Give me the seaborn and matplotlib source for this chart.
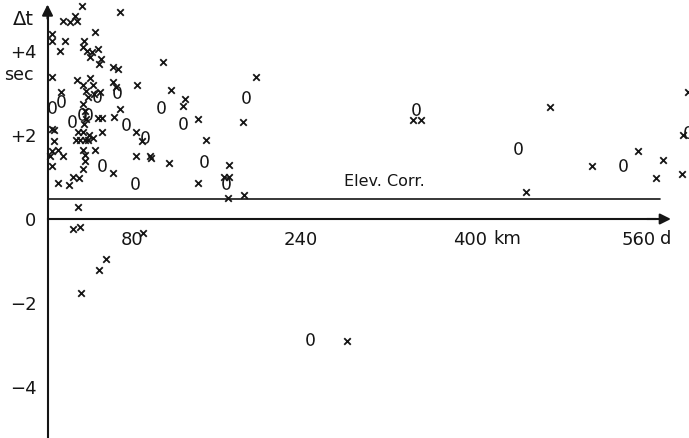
import matplotlib
matplotlib.use("Agg")
import matplotlib.pyplot as plt
import seaborn as sns
import pandas as pd

sns.set_style("white")
plt.rcParams['font.family'] = ['DejaVu Sans']

# travel-time residuals, "x" readings
cross_km = [32.3, 68.3, 14.2, 20.9, 25.6, 27.5, 3.8, 44.6, 4.7, 16.1,
            11.4, 34.2, 33.2, 37.0, 41.7, 47.4, 39.8, 50.3, 48.4, 61.7,
            66.4, 109.1, 84.4, 4.7, 27.5, 33.2, 39.8, 42.7, 61.7, 64.5,
            12.3, 116.7, 130.0, 128.1, 197.3, 142.3, 185.0, 149.9, 114.8, 97.7,
            142.3, 171.7, 167.0, 171.7, 170.8, 186.0, 83.5, 89.2, 83.5, 96.8,
            47.4, 51.2, 62.6, 68.3, 5.7, 6.6, 28.5, 33.2, 38.9, 42.7,
            51.2, 26.6, 30.4, 35.1, 38.0, 44.6, 4.7, 9.5, 2.8, 14.2,
            33.2, 35.1, 35.1, 4.7, 33.2, 61.7, 23.7, 29.4, 10.4, 19.9,
            28.5, 23.7, 30.4, 55.0, 48.4, 31.3, 90.1, 283.7, 346.3, 353.9,
            476.3, 453.5, 516.1, 558.8, 582.5, 575.9, 600.6, 606.3, 601.5, 36.1,
            38.0, 43.6, 49.3, 33.2, 35.1, 34.2, 4.7, 36.1]
cross_dt = [5.06, 4.92, 4.72, 4.68, 4.84, 4.70, 4.41, 4.44, 4.24, 4.24,
            4.00, 4.24, 4.10, 4.00, 3.98, 4.05, 3.86, 3.81, 3.69, 3.62,
            3.57, 3.74, 3.19, 3.38, 3.31, 3.19, 3.36, 3.19, 3.26, 3.14,
            3.02, 3.07, 2.85, 2.69, 3.38, 2.37, 2.30, 1.87, 1.34, 1.46,
            0.86, 1.29, 1.01, 1.01, 0.50, 0.58, 2.06, 1.85, 1.49, 1.49,
            2.40, 2.40, 2.42, 2.61, 2.11, 1.85, 2.06, 2.06, 2.01, 1.92,
            2.06, 1.89, 1.89, 1.87, 1.89, 1.65, 1.61, 1.65, 1.49, 1.49,
            1.65, 1.53, 1.39, 1.27, 1.20, 1.10, 1.01, 0.98, 0.86, 0.82,
            0.29, -0.24, -0.19, -0.94, -1.22, -1.77, -0.34, -2.90, 2.35, 2.35,
            2.66, 0.65, 1.25, 1.61, 1.41, 0.98, 1.08, 3.02, 1.99, 3.05,
            2.90, 2.97, 3.02, 2.73, 2.57, 2.25, 2.13, 2.37]

# "0" readings
zero_km = [12.3, 3.8, 22.8, 32.3, 38.0, 46.5, 65.5, 74.0, 92.0, 107.2,
           128.1, 187.9, 148.0, 168.9, 51.2, 82.5, 248.6, 349.1, 445.9, 544.6,
           606.3]
zero_dt = [2.81, 2.66, 2.33, 2.49, 2.49, 2.93, 3.02, 2.25, 1.94, 2.66,
           2.28, 2.90, 1.37, 0.86, 1.29, 0.86, -2.85, 2.61, 1.70, 1.29,
           2.06]

elev_corr = 0.48
x_ticks = [80, 160, 240, 320, 400, 480, 560]
x_labels = ['80', '', '240', '', '400', '', '560']
y_ticks = [-4, -2, 0, 2, 4]
y_labels = ['−4', '−2', '0', '+2', '+4']

df_x = pd.DataFrame({'km': cross_km, 'dt': cross_dt})
df_0 = pd.DataFrame({'km': zero_km, 'dt': zero_dt})

ink = '#151515'
fig = plt.figure(figsize=(6.89, 4.38), dpi=100)
ax = fig.add_axes([0, 0, 1, 1])

sns.scatterplot(data=df_x, x='km', y='dt', marker='x', s=22, color=ink,
                linewidth=1.3, ax=ax, clip_on=False)
sns.scatterplot(data=df_0, x='km', y='dt', marker='$0$', s=85, color=ink,
                linewidth=0, ax=ax, clip_on=False)

ax.set_xlim(-45, 607.5)
ax.set_ylim(-5.21, 5.21)

# axes through origin
for side in ['top', 'right']:
    ax.spines[side].set_visible(False)
ax.spines['left'].set_position(('data', 0))
ax.spines['bottom'].set_position(('data', 0))
ax.spines['left'].set_bounds(-5.2, 4.9)
ax.spines['bottom'].set_bounds(0, 575)
for side in ['left', 'bottom']:
    ax.spines[side].set_linewidth(1.5)
    ax.spines[side].set_color(ink)

ax.annotate('', xy=(0, 5.17), xytext=(0, 4.7),
            arrowprops=dict(arrowstyle='-|>', color=ink, lw=1.5, mutation_scale=16))
ax.annotate('', xy=(593, 0), xytext=(565, 0),
            arrowprops=dict(arrowstyle='-|>', color=ink, lw=1.5, mutation_scale=16))

ax.set_xticks(x_ticks)
ax.set_xticklabels(x_labels)
ax.set_yticks(y_ticks)
ax.set_yticklabels(y_labels)
ax.set_yticks([-3, -1, 1, 3], minor=True)
ax.tick_params(axis='both', which='both', direction='inout', length=10,
               width=1.3, color=ink, labelsize=13, labelcolor=ink)
ax.tick_params(axis='y', pad=3)
ax.set_xlabel('')
ax.set_ylabel('')

# elevation correction line
ax.plot([0, 580], [elev_corr, elev_corr], color=ink, lw=1.2)
ax.text(319, 0.89, 'Elev. Corr.', fontsize=11.5, color=ink, ha='center', va='center')

ax.text(422, -0.27, 'km', fontsize=13, color=ink, ha='left', va='top')
ax.text(580, -0.27, 'd', fontsize=13, color=ink, ha='left', va='top')
ax.text(-33, 4.74, 'Δt', fontsize=14, color=ink, ha='left', va='center')
ax.text(-41, 3.42, 'sec', fontsize=12.5, color=ink, ha='left', va='center')

plt.savefig('out.png', dpi=100)
